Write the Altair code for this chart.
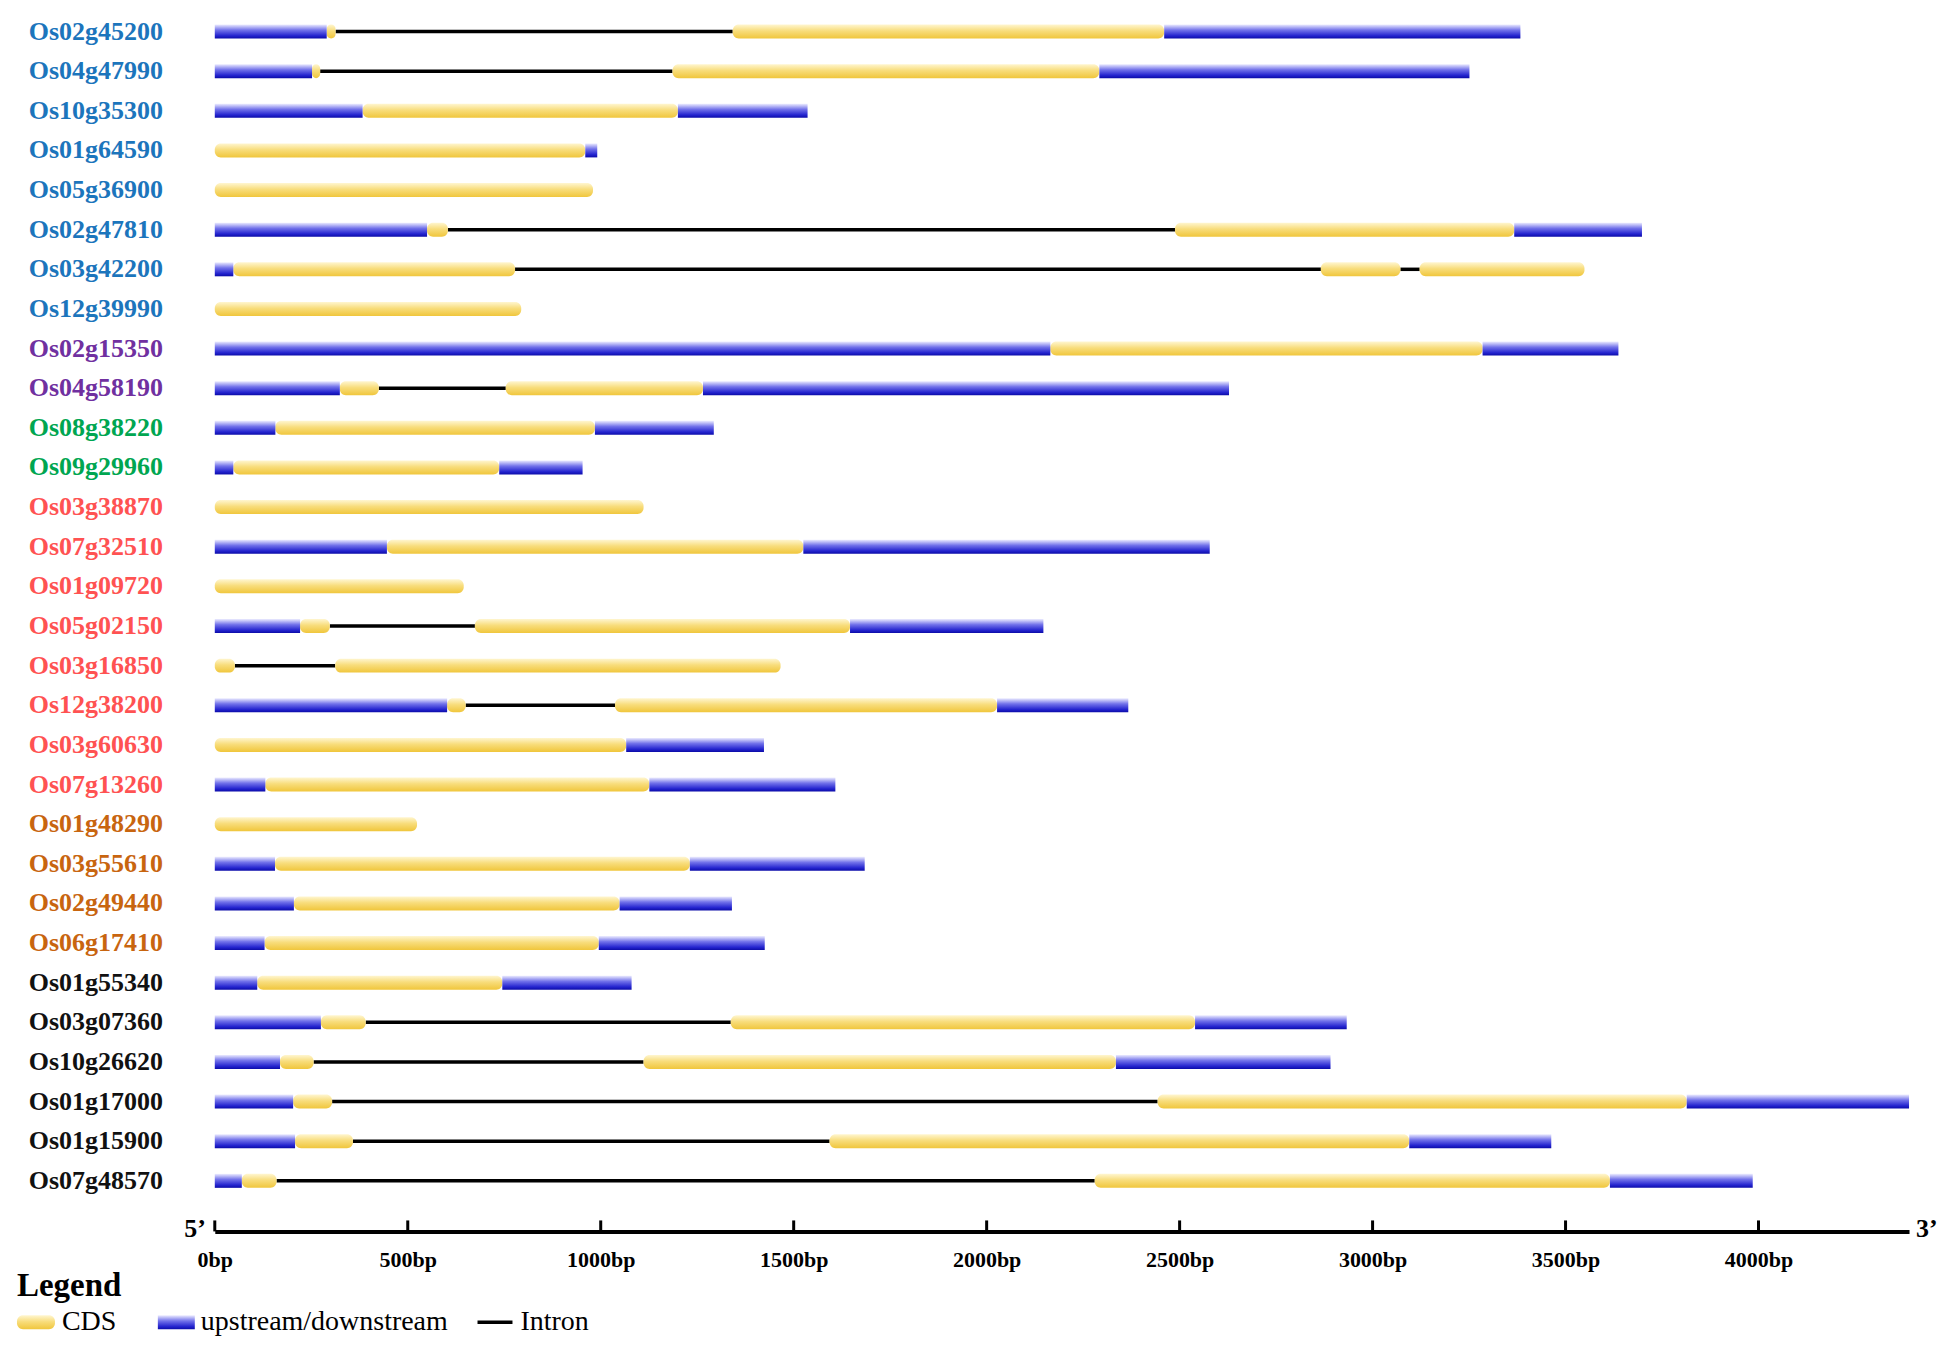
import altair as alt
import pandas as pd

# ---------------- data ----------------
GENES = ["Os02g45200", "Os04g47990", "Os10g35300", "Os01g64590", "Os05g36900",
         "Os02g47810", "Os03g42200", "Os12g39990", "Os02g15350", "Os04g58190",
         "Os08g38220", "Os09g29960", "Os03g38870", "Os07g32510", "Os01g09720",
         "Os05g02150", "Os03g16850", "Os12g38200", "Os03g60630", "Os07g13260",
         "Os01g48290", "Os03g55610", "Os02g49440", "Os06g17410", "Os01g55340",
         "Os03g07360", "Os10g26620", "Os01g17000", "Os01g15900", "Os07g48570"]

# group of each gene (index into GROUP_COLORS)
GENE_GROUP = [0, 0, 0, 0, 0, 0, 0, 0, 1, 1, 2, 2, 3, 3, 3, 3, 3, 3, 3, 3,
              4, 4, 4, 4, 5, 5, 5, 5, 5, 5]
GROUP_COLORS = ["#1C75BC", "#7030A0", "#00A651", "#FF5252", "#C8650F", "#111111"]

# gene structures: (kind, start bp, end bp); U = upstream/downstream, C = CDS, I = intron
STRUCTURES = {
    "Os02g45200": [("U", 0, 290), ("C", 290, 313), ("I", 313, 1342), ("C", 1342, 2460), ("U", 2460, 3383)],
    "Os04g47990": [("U", 0, 252), ("C", 252, 273), ("I", 273, 1186), ("C", 1186, 2292), ("U", 2292, 3251)],
    "Os10g35300": [("U", 0, 383), ("C", 383, 1200), ("U", 1200, 1536)],
    "Os01g64590": [("C", 0, 960), ("U", 960, 991)],
    "Os05g36900": [("C", 0, 980)],
    "Os02g47810": [("U", 0, 550), ("C", 550, 604), ("I", 604, 2488), ("C", 2488, 3367), ("U", 3367, 3698)],
    "Os03g42200": [("U", 0, 48), ("C", 48, 778), ("I", 778, 2866), ("C", 2866, 3072), ("I", 3072, 3122), ("C", 3122, 3549)],
    "Os12g39990": [("C", 0, 794)],
    "Os02g15350": [("U", 0, 2165), ("C", 2165, 3285), ("U", 3285, 3637)],
    "Os04g58190": [("U", 0, 324), ("C", 324, 425), ("I", 425, 754), ("C", 754, 1265), ("U", 1265, 2628)],
    "Os08g38220": [("U", 0, 157), ("C", 157, 985), ("U", 985, 1293)],
    "Os09g29960": [("U", 0, 48), ("C", 48, 737), ("U", 737, 953)],
    "Os03g38870": [("C", 0, 1111)],
    "Os07g32510": [("U", 0, 446), ("C", 446, 1525), ("U", 1525, 2578)],
    "Os01g09720": [("C", 0, 645)],
    "Os05g02150": [("U", 0, 221), ("C", 221, 298), ("I", 298, 674), ("C", 674, 1646), ("U", 1646, 2147)],
    "Os03g16850": [("C", 0, 52), ("I", 52, 312), ("C", 312, 1466)],
    "Os12g38200": [("U", 0, 602), ("C", 602, 650), ("I", 650, 1037), ("C", 1037, 2027), ("U", 2027, 2367)],
    "Os03g60630": [("C", 0, 1066), ("U", 1066, 1423)],
    "Os07g13260": [("U", 0, 131), ("C", 131, 1126), ("U", 1126, 1608)],
    "Os01g48290": [("C", 0, 524)],
    "Os03g55610": [("U", 0, 156), ("C", 156, 1231), ("U", 1231, 1684)],
    "Os02g49440": [("U", 0, 205), ("C", 205, 1049), ("U", 1049, 1340)],
    "Os06g17410": [("U", 0, 129), ("C", 129, 995), ("U", 995, 1425)],
    "Os01g55340": [("U", 0, 110), ("C", 110, 745), ("U", 745, 1080)],
    "Os03g07360": [("U", 0, 275), ("C", 275, 391), ("I", 391, 1337), ("C", 1337, 2540), ("U", 2540, 2933)],
    "Os10g26620": [("U", 0, 169), ("C", 169, 256), ("I", 256, 1111), ("C", 1111, 2335), ("U", 2335, 2891)],
    "Os01g17000": [("U", 0, 203), ("C", 203, 304), ("I", 304, 2443), ("C", 2443, 3814), ("U", 3814, 4390)],
    "Os01g15900": [("U", 0, 208), ("C", 208, 358), ("I", 358, 1593), ("C", 1593, 3095), ("U", 3095, 3463)],
    "Os07g48570": [("U", 0, 70), ("C", 70, 160), ("I", 160, 2280), ("C", 2280, 3615), ("U", 3615, 3985)],
}

TICKS = [0, 500, 1000, 1500, 2000, 2500, 3000, 3500, 4000]
AXIS_MAX = 4390
END_LABELS = ["5\u2019", "3\u2019"]
LEGEND_TITLE = "Legend"
LEGEND_LABELS = ["CDS", "upstream/downstream", "Intron"]

# ---------------- tables ----------------
rows = []
for i, g in enumerate(GENES):
    for kind, s, e in STRUCTURES[g]:
        rows.append({"gene": g, "row": i, "kind": kind, "start": s, "end": e})
seg = pd.DataFrame(rows)
labels = pd.DataFrame({"gene": GENES, "row": list(range(len(GENES)))})
label_colors = [GROUP_COLORS[k] for k in GENE_GROUP]
ticks_df = pd.DataFrame({"t": TICKS})

# ---------------- styling ----------------
W, H = 1696, 1224
SERIF = "Liberation Serif"
YELLOW = {"gradient": "linear", "x1": 0, "y1": 0, "x2": 0, "y2": 1,
          "stops": [{"offset": 0, "color": "#FFF6D0"},
                    {"offset": 0.45, "color": "#F8DD7C"},
                    {"offset": 1, "color": "#F0C63C"}]}
BLUE = {"gradient": "linear", "x1": 0, "y1": 0, "x2": 0, "y2": 1,
        "stops": [{"offset": 0, "color": "#ECECFF"},
                  {"offset": 0.4, "color": "#7272EA"},
                  {"offset": 0.8, "color": "#2424CF"},
                  {"offset": 1, "color": "#0C0CA8"}]}

xs = alt.Scale(domain=[0, AXIS_MAX], nice=False, zero=False)
ys = alt.Scale(domain=[-0.45, 30.15], reverse=True, nice=False, zero=False)
X_AXIS = alt.Axis(values=TICKS, labelExpr="datum.value + 'bp'", title=None, grid=False,
                  ticks=False, tickSize=0, domain=True, domainColor="black", domainWidth=4,
                  labelFont=SERIF, labelFontWeight="bold", labelFontSize=22, labelColor="black",
                  labelPadding=18, labelFlush=False, labelOverlap=False)

def X(field):
    return alt.X(field, scale=xs, axis=X_AXIS)

def Y(field):
    return alt.Y(field, scale=ys, axis=None)

base = alt.Chart(seg)

introns = base.transform_filter("datum.kind == 'I'").mark_rule(
    color="black", strokeWidth=3.5).encode(x=X("start:Q"), x2="end:Q", y=Y("row:Q"))

cds = base.transform_filter("datum.kind == 'C'").mark_bar(
    color=YELLOW, orient="horizontal", size=14, cornerRadius=6).encode(
    x=X("start:Q"), x2="end:Q", y=Y("row:Q"))

utr = base.transform_filter("datum.kind == 'U'").mark_bar(
    color=BLUE, orient="horizontal", size=14).encode(
    x=X("start:Q"), x2="end:Q", y=Y("row:Q"))

gene_text = alt.Chart(labels).mark_text(
    align="center", baseline="middle", font=SERIF, fontWeight="bold", fontSize=26).encode(
    x=alt.value(-119), y=Y("row:Q"), text="gene:N",
    color=alt.Color("gene:N", scale=alt.Scale(domain=GENES, range=label_colors), legend=None))

tick_marks = alt.Chart(ticks_df).mark_rule(color="black", strokeWidth=3).encode(
    x=X("t:Q"), y=alt.value(H - 11), y2=alt.value(H))

end5 = alt.Chart(pd.DataFrame({"lab": [END_LABELS[0]], "pos": [0]})).mark_text(
    align="right", baseline="middle", font=SERIF, fontWeight="bold", fontSize=26, dx=-9, dy=-2,
    color="black").encode(x=X("pos:Q"), y=alt.value(H), text="lab:N")
end3 = alt.Chart(pd.DataFrame({"lab": [END_LABELS[1]], "pos": [AXIS_MAX]})).mark_text(
    align="left", baseline="middle", font=SERIF, fontWeight="bold", fontSize=26, dx=7, dy=-2,
    color="black").encode(x=X("pos:Q"), y=alt.value(H), text="lab:N")

# ---------------- legend (bottom left) ----------------
LY = 1315
leg_title = alt.Chart(pd.DataFrame({"lab": [LEGEND_TITLE]})).mark_text(
    align="left", baseline="middle", font=SERIF, fontWeight="bold", fontSize=33, color="black").encode(
    x=alt.value(-198), y=alt.value(1279), text="lab:N")

sw_cds = alt.Chart(pd.DataFrame({"lab": [LEGEND_LABELS[0]]})).mark_rect(
    color=YELLOW, cornerRadius=6).encode(
    x=alt.value(-198), x2=alt.value(-160), y=alt.value(LY - 7), y2=alt.value(LY + 7))
sw_utr = alt.Chart(pd.DataFrame({"lab": [LEGEND_LABELS[1]]})).mark_rect(color=BLUE).encode(
    x=alt.value(-57), x2=alt.value(-20), y=alt.value(LY - 7), y2=alt.value(LY + 7))
sw_int = alt.Chart(pd.DataFrame({"lab": [LEGEND_LABELS[2]]})).mark_rule(
    color="black", strokeWidth=3.5).encode(
    x=alt.value(263), x2=alt.value(298), y=alt.value(LY))

leg_texts = []
for lab, px in zip(LEGEND_LABELS, [-153, -14, 306]):
    leg_texts.append(alt.Chart(pd.DataFrame({"lab": [lab]})).mark_text(
        align="left", baseline="middle", font=SERIF, fontSize=28, color="black").encode(
        x=alt.value(px), y=alt.value(LY), text="lab:N"))

chart = alt.layer(
    introns, cds, utr, gene_text, tick_marks, end5, end3,
    leg_title, sw_cds, sw_utr, sw_int, *leg_texts
).properties(
    width=W, height=H,
    padding={"left": 9, "top": 0, "right": 0, "bottom": 0},
    background="white",
).configure_view(stroke=None)

chart.save("out.html", embed_options={"renderer": "svg", "actions": False})
